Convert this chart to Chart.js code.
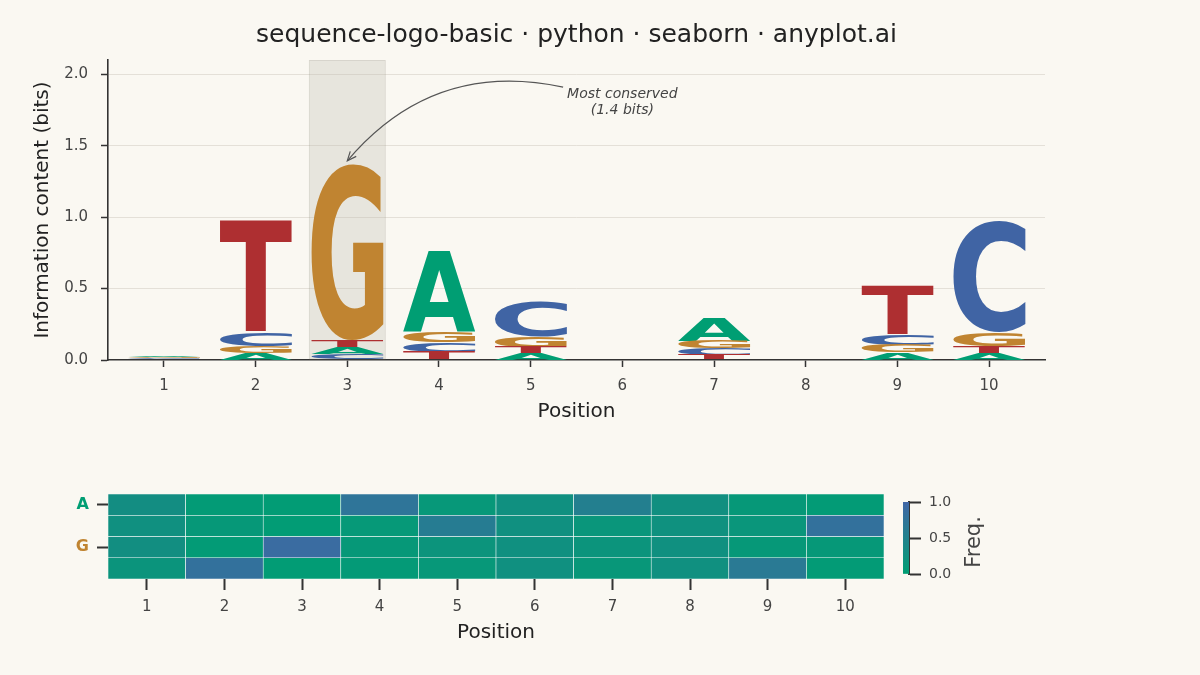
<!DOCTYPE html>
<html>
<head>
<meta charset="utf-8">
<script src="https://cdn.jsdelivr.net/npm/chart.js@4.4.1/dist/chart.umd.min.js"></script>
<style>
  html, body { margin: 0; padding: 0; background: #faf8f2; }
  #wrap { position: relative; width: 1200px; height: 675px; overflow: hidden; }
  canvas { position: absolute; }
</style>
</head>
<body>
<div id="wrap">
  <canvas id="logo" width="1200" height="450" style="left:0;top:0;width:1200px;height:450px"></canvas>
  <canvas id="heat" width="1200" height="225" style="left:0;top:450px;width:1200px;height:225px"></canvas>
  <canvas id="cbar" width="120" height="225" style="left:880px;top:450px;width:120px;height:225px"></canvas>
</div>
<script>
const positions = ['1', '2', '3', '4', '5', '6', '7', '8', '9', '10'];
const bases = ['A', 'C', 'G', 'T'];
const freqA = [0.30, 0.05, 0.035, 0.74, 0.11, 0.25, 0.55, 0.26, 0.10, 0.05];
const freqC = [0.25, 0.10, 0.03, 0.09, 0.60, 0.25, 0.15, 0.24, 0.15, 0.80];
const freqG = [0.28, 0.05, 0.90, 0.10, 0.18, 0.25, 0.18, 0.25, 0.10, 0.10];
const freqT = [0.17, 0.80, 0.035, 0.07, 0.11, 0.25, 0.12, 0.25, 0.65, 0.05];
const bitTicks = [0, 0.5, 1.0, 1.5, 2.0];
const freqTicks = [0, 0.5, 1.0];

const FONT = '"DejaVu Sans", "Liberation Sans", sans-serif';
const INK = '#444';
const baseColors = { A: '#009E73', C: '#4064A4', G: '#C08431', T: '#AE2F31' };
const freqs = { A: freqA, C: freqC, G: freqG, T: freqT };

// information content per position (2 bits minus entropy)
const info = positions.map((p, i) => {
  let h = 0;
  bases.forEach(b => {
    const f = freqs[b][i];
    if (f > 0) h -= f * Math.log2(f);
  });
  return 2 - h;
});
const best = info.indexOf(Math.max(...info));

// stack letters smallest at the bottom
const stacks = { A: [], C: [], G: [], T: [] };
positions.forEach((p, i) => {
  let bottom = 0;
  bases.map(b => [b, freqs[b][i] * info[i]])
    .sort((a, b) => a[1] - b[1])
    .forEach(([b, h]) => {
      stacks[b].push({ x: i + 1, y: [bottom, bottom + h] });
      bottom += h;
    });
});

// green -> blue colormap
const lo = [0, 158, 115], hi = [64, 102, 166];
function cmap(v) {
  const c = lo.map((l, k) => Math.round(l + (hi[k] - l) * v));
  return `rgb(${c[0]},${c[1]},${c[2]})`;
}

function drawLetter(ctx, ch, x0, y0, w, h, color) {
  ctx.save();
  ctx.font = 'bold 200px ' + FONT;
  ctx.textAlign = 'left';
  ctx.textBaseline = 'alphabetic';
  const m = ctx.measureText(ch);
  const gw = m.actualBoundingBoxLeft + m.actualBoundingBoxRight;
  const gh = m.actualBoundingBoxAscent + m.actualBoundingBoxDescent;
  ctx.translate(x0, y0);
  ctx.scale(w / gw, h / gh);
  ctx.fillStyle = color;
  ctx.fillText(ch, m.actualBoundingBoxLeft, m.actualBoundingBoxAscent);
  ctx.restore();
}

const glyphs = {
  id: 'glyphs',
  afterDatasetsDraw(chart) {
    const ctx = chart.ctx;
    chart.data.datasets.forEach((ds, di) => {
      if (!ds.letter) return;
      chart.getDatasetMeta(di).data.forEach(bar => {
        const { x, y, base, width } = bar.getProps(['x', 'y', 'base', 'width'], true);
        const h = base - y;
        if (h < 0.4) return;
        drawLetter(ctx, ds.letter, x - width / 2, y, width, h, baseColors[ds.letter]);
      });
    });
  }
};

const note = {
  id: 'note',
  afterDatasetsDraw(chart) {
    const { ctx, scales: { x, y } } = chart;
    const tx = x.getPixelForValue(6.0), ty = y.getPixelForValue(1.805);
    const lines = ['Most conserved', '(' + info[best].toFixed(1) + ' bits)'];
    ctx.save();
    ctx.font = 'italic 14px ' + FONT;
    ctx.fillStyle = INK;
    ctx.textAlign = 'center';
    ctx.textBaseline = 'middle';
    ctx.fillText(lines[0], tx, ty - 8);
    ctx.fillText(lines[1], tx, ty + 8);
    const w = ctx.measureText(lines[0]).width;
    const sx = tx - w / 2 - 4, sy = ty - 15;
    const ex = x.getPixelForValue(best + 1), ey = y.getPixelForValue(info[best]) - 3;
    const f = 0.3;
    const cx = (sx + ex) / 2 - f * (ey - sy), cy = (sy + ey) / 2 + f * (ex - sx);
    ctx.strokeStyle = '#555';
    ctx.lineWidth = 1.2;
    ctx.beginPath();
    ctx.moveTo(sx, sy);
    ctx.quadraticCurveTo(cx, cy, ex, ey);
    ctx.stroke();
    const ang = Math.atan2(ey - cy, ex - cx);
    ctx.beginPath();
    ctx.moveTo(ex - 10 * Math.cos(ang - 0.4), ey - 10 * Math.sin(ang - 0.4));
    ctx.lineTo(ex, ey);
    ctx.lineTo(ex - 10 * Math.cos(ang + 0.4), ey - 10 * Math.sin(ang + 0.4));
    ctx.stroke();
    ctx.restore();
  }
};

const letterSets = bases.map(b => ({
  letter: b,
  data: stacks[b],
  backgroundColor: 'rgba(0,0,0,0)',
  borderWidth: 0,
  grouped: false,
  barPercentage: 0.79,
  categoryPercentage: 1,
  order: 0
}));

const highlight = {
  data: [{ x: best + 1, y: [0, 2.1] }],
  backgroundColor: 'rgba(190,185,172,0.3)',
  borderColor: 'rgba(150,145,135,0.35)',
  borderWidth: 1,
  borderSkipped: false,
  grouped: false,
  barPercentage: 0.84,
  categoryPercentage: 1,
  order: 10
};

new Chart(document.getElementById('logo'), {
  type: 'bar',
  data: { datasets: [highlight, ...letterSets] },
  options: {
    responsive: false,
    animation: false,
    layout: { padding: { left: 27, right: 155, top: 20, bottom: 22 } },
    plugins: {
      legend: { display: false },
      tooltip: { enabled: false },
      title: {
        display: true,
        text: 'sequence-logo-basic · python · seaborn · anyplot.ai',
        color: '#222',
        font: { family: FONT, size: 25, weight: 'normal' },
        padding: { top: 0, bottom: 10 },
        fullSize: false
      }
    },
    scales: {
      x: {
        type: 'linear',
        min: 0.39,
        max: 10.61,
        offset: false,
        afterBuildTicks: s => { s.ticks = positions.map((p, i) => ({ value: i + 1 })); },
        ticks: {
          callback: v => positions[v - 1],
          color: INK,
          font: { family: FONT, size: 15 },
          padding: 10,
          maxRotation: 0
        },
        grid: { offset: false, drawOnChartArea: false, tickLength: 7, tickColor: '#333', tickWidth: 1.5 },
        border: { color: '#333', width: 1.6 },
        title: { display: true, text: 'Position', color: '#222', font: { family: FONT, size: 20 } },
        afterFit: s => { s.height = 68; }
      },
      y: {
        min: 0,
        max: 2.1,
        afterBuildTicks: s => { s.ticks = bitTicks.map(v => ({ value: v })); },
        ticks: {
          callback: v => v.toFixed(1),
          color: INK,
          font: { family: FONT, size: 15 },
          padding: 13
        },
        grid: {
          color: c => (c.tick && c.tick.value === 0 ? 'rgba(0,0,0,0)' : '#e4e0d8'),
          lineWidth: 1,
          tickLength: 7,
          tickColor: '#333',
          tickWidth: 1.5
        },
        border: { color: '#333', width: 1.6 },
        title: { display: true, text: 'Information content (bits)', color: '#222', font: { family: FONT, size: 20 } },
        afterFit: s => { s.width = 81; }
      }
    }
  },
  plugins: [glyphs, note]
});

// frequency heatmap, one row of cells per base
new Chart(document.getElementById('heat'), {
  type: 'bar',
  data: {
    labels: positions,
    datasets: bases.map((b, r) => ({
      label: b,
      data: positions.map(() => [r, r + 1]),
      backgroundColor: freqs[b].map(cmap),
      borderColor: 'rgba(255,255,255,0.85)',
      borderWidth: 0.6,
      borderSkipped: false,
      grouped: false,
      barPercentage: 1,
      categoryPercentage: 1
    }))
  },
  options: {
    responsive: false,
    animation: false,
    layout: { padding: { left: 0, right: 316, top: 44, bottom: 26 } },
    plugins: { legend: { display: false }, tooltip: { enabled: false } },
    scales: {
      x: {
        ticks: { color: INK, font: { family: FONT, size: 15 }, padding: 8, maxRotation: 0 },
        grid: { offset: false, drawOnChartArea: false, tickLength: 11, tickColor: '#333', tickWidth: 2 },
        border: { display: false },
        title: { display: true, text: 'Position', color: '#222', font: { family: FONT, size: 20 } },
        afterFit: s => { s.height = 70; }
      },
      y: {
        min: 0,
        max: 4,
        reverse: true,
        afterBuildTicks: s => { s.ticks = [0.5, 2.5].map(v => ({ value: v })); },
        ticks: {
          callback: v => bases[Math.floor(v)],
          color: c => baseColors[bases[Math.floor(c.tick.value)]],
          font: { family: FONT, size: 16, weight: 'bold' },
          padding: 8
        },
        grid: { drawOnChartArea: false, tickLength: 11, tickColor: '#333', tickWidth: 2 },
        border: { display: false },
        afterFit: s => { s.width = 108; }
      }
    }
  }
});

const freqTitle = {
  id: 'freqTitle',
  afterDraw(chart) {
    const { ctx, chartArea } = chart;
    ctx.save();
    ctx.translate(95, (chartArea.top + chartArea.bottom) / 2 + 4);
    ctx.rotate(-Math.PI / 2);
    ctx.font = '21px ' + FONT;
    ctx.fillStyle = INK;
    ctx.textAlign = 'center';
    ctx.textBaseline = 'middle';
    ctx.fillText('Freq.', 0, 0);
    ctx.restore();
  }
};

new Chart(document.getElementById('cbar'), {
  type: 'bar',
  data: {
    labels: ['Freq.'],
    datasets: [{
      data: [[0, 1]],
      backgroundColor: c => {
        const a = c.chart.chartArea;
        if (!a) return cmap(0.5);
        const g = c.chart.ctx.createLinearGradient(0, a.bottom, 0, a.top);
        g.addColorStop(0, cmap(0));
        g.addColorStop(1, cmap(1));
        return g;
      },
      borderWidth: 0,
      barPercentage: 1,
      categoryPercentage: 1
    }]
  },
  options: {
    responsive: false,
    animation: false,
    layout: { padding: { left: 23, right: 0, top: 52, bottom: 101 } },
    plugins: { legend: { display: false }, tooltip: { enabled: false } },
    scales: {
      x: { display: false },
      y: {
        position: 'right',
        min: 0,
        max: 1,
        afterBuildTicks: s => { s.ticks = freqTicks.map(v => ({ value: v })); },
        ticks: { callback: v => v.toFixed(1), color: INK, font: { family: FONT, size: 14 }, padding: 8 },
        grid: { drawOnChartArea: false, tickLength: 12, tickColor: '#333', tickWidth: 2 },
        border: { color: '#333', width: 2 },
        afterFit: s => { s.width = 91; }
      }
    }
  },
  plugins: [freqTitle]
});
</script>
</body>
</html>
